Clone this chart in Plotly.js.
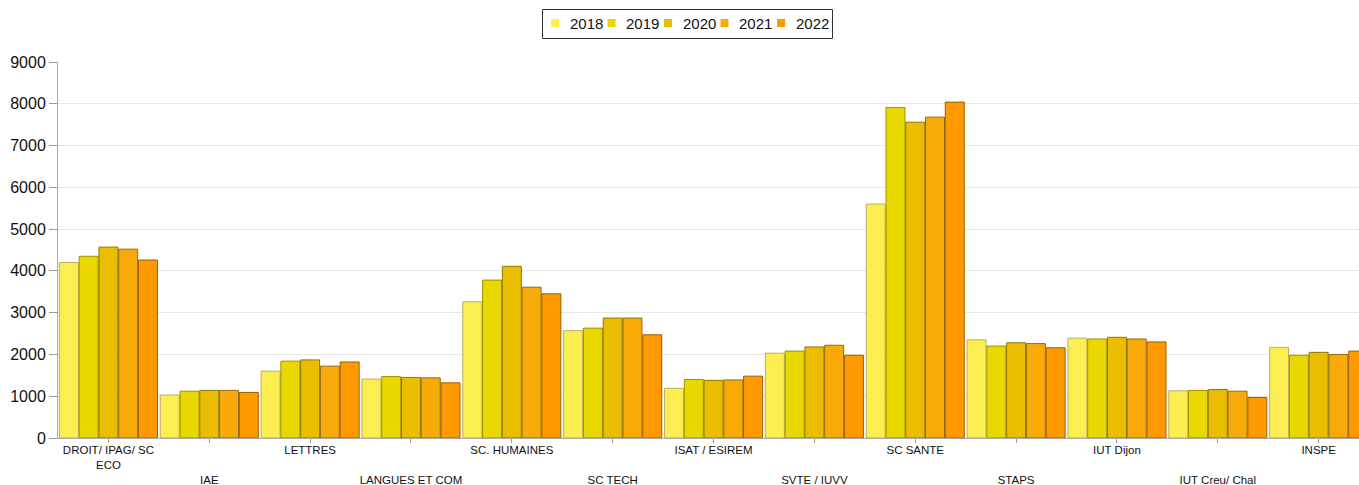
<!DOCTYPE html>
<html>
<head>
<meta charset="utf-8">
<script src="https://cdn.plot.ly/plotly-3.0.1.min.js"></script>
<style>
html,body{margin:0;padding:0;background:#fff;}
#chart{width:1359px;height:485px;}
</style>
</head>
<body>
<div id="chart"></div>
<script>
const categories = ["DROIT/ IPAG/ SC<br>ECO","IAE","LETTRES","LANGUES ET COM","SC. HUMAINES","SC TECH","ISAT / ESIREM","SVTE / IUVV","SC SANTE","STAPS","IUT Dijon","IUT Creu/ Chal","INSPE"];
const years = ["2018","2019","2020","2021","2022"];
const v2018 = [4200,1030,1600,1410,3260,2570,1190,2030,5600,2350,2390,1130,2170];
const v2019 = [4350,1120,1840,1470,3780,2630,1400,2080,7910,2200,2370,1140,1980];
const v2020 = [4570,1140,1870,1450,4110,2870,1380,2180,7560,2280,2410,1160,2050];
const v2021 = [4520,1140,1720,1440,3610,2870,1390,2220,7680,2260,2370,1120,2000];
const v2022 = [4260,1090,1820,1320,3450,2470,1480,1980,8040,2160,2300,970,2080];
const seriesValues = [v2018,v2019,v2020,v2021,v2022];
const fillColors = ["#fcee50","#e8d800","#ebbd00","#f8aa08","#ff9900"];
const lineColors = ["#b9af62","#9d9200","#8c7800","#8f6d12","#9a6000"];

const W = 1359, H = 485;
const M = {l:58, r:0, t:62, b:47};
const PW = W - M.l - M.r, PH = H - M.t - M.b;
// pixel -> paper helpers (legend layout only)
const px = x => (x - M.l) / PW;
const py = y => (H - M.b - y) / PH;

const idx = categories.map((c,i)=>i);
const tickText = categories.map((c,i)=> i%2===0 ? c : "<br><br>"+c);

const traces = years.map((y,k)=>({
  type:"bar",
  name:y,
  x:idx,
  y:seriesValues[k],
  marker:{color:fillColors[k], line:{color:lineColors[k], width:1}},
  showlegend:false
}));

// custom compact legend (box, swatches, labels)
const shapes = [{
  type:"rect", xref:"paper", yref:"paper",
  x0:px(542.5), x1:px(832.5), y0:py(38.5), y1:py(9.5),
  line:{color:"#333", width:1}, fillcolor:"#fff", layer:"above"
}];
const annotations = [];
years.forEach((y,k)=>{
  const sx = 551 + 56.5*k;
  shapes.push({type:"rect", xref:"paper", yref:"paper",
    x0:px(sx), x1:px(sx+8), y0:py(27), y1:py(19),
    line:{width:0}, fillcolor:fillColors[k], layer:"above"});
  annotations.push({xref:"paper", yref:"paper", x:px(sx+16.5), y:py(23.5),
    xanchor:"left", yanchor:"middle", text:y, showarrow:false,
    font:{size:15, color:"#111"}});
});

const layout = {
  width:W, height:H,
  margin:{l:M.l, r:M.r, t:M.t, b:M.b, pad:0},
  paper_bgcolor:"#fff", plot_bgcolor:"#fff",
  font:{family:"Liberation Sans, Arial, sans-serif", color:"#111"},
  barmode:"group",
  bargap:0.02,
  bargroupgap:0.04,
  showlegend:false,
  shapes:shapes,
  annotations:annotations,
  xaxis:{
    range:[-0.5,12.40], tickmode:"array", tickvals:idx, ticktext:tickText,
    tickangle:0, tickfont:{size:11.5, color:"#111"},
    showline:true, linecolor:"#aaa", linewidth:1,
    ticks:"outside", ticklen:4, tickcolor:"#999",
    ticklabelstandoff:-3,
    showgrid:false, zeroline:false, fixedrange:true
  },
  yaxis:{
    range:[0,9000], tickvals:[0,1000,2000,3000,4000,5000,6000,7000,8000,9000],
    tickfont:{size:16, color:"#111"},
    showline:true, linecolor:"#aaa", linewidth:1,
    ticks:"outside", ticklen:8, tickcolor:"#999",
    showgrid:true, gridcolor:"#e8e8e8", gridwidth:1, zeroline:false
  }
};
Plotly.newPlot("chart", traces, layout, {displayModeBar:false, staticPlot:true});
</script>
</body>
</html>
